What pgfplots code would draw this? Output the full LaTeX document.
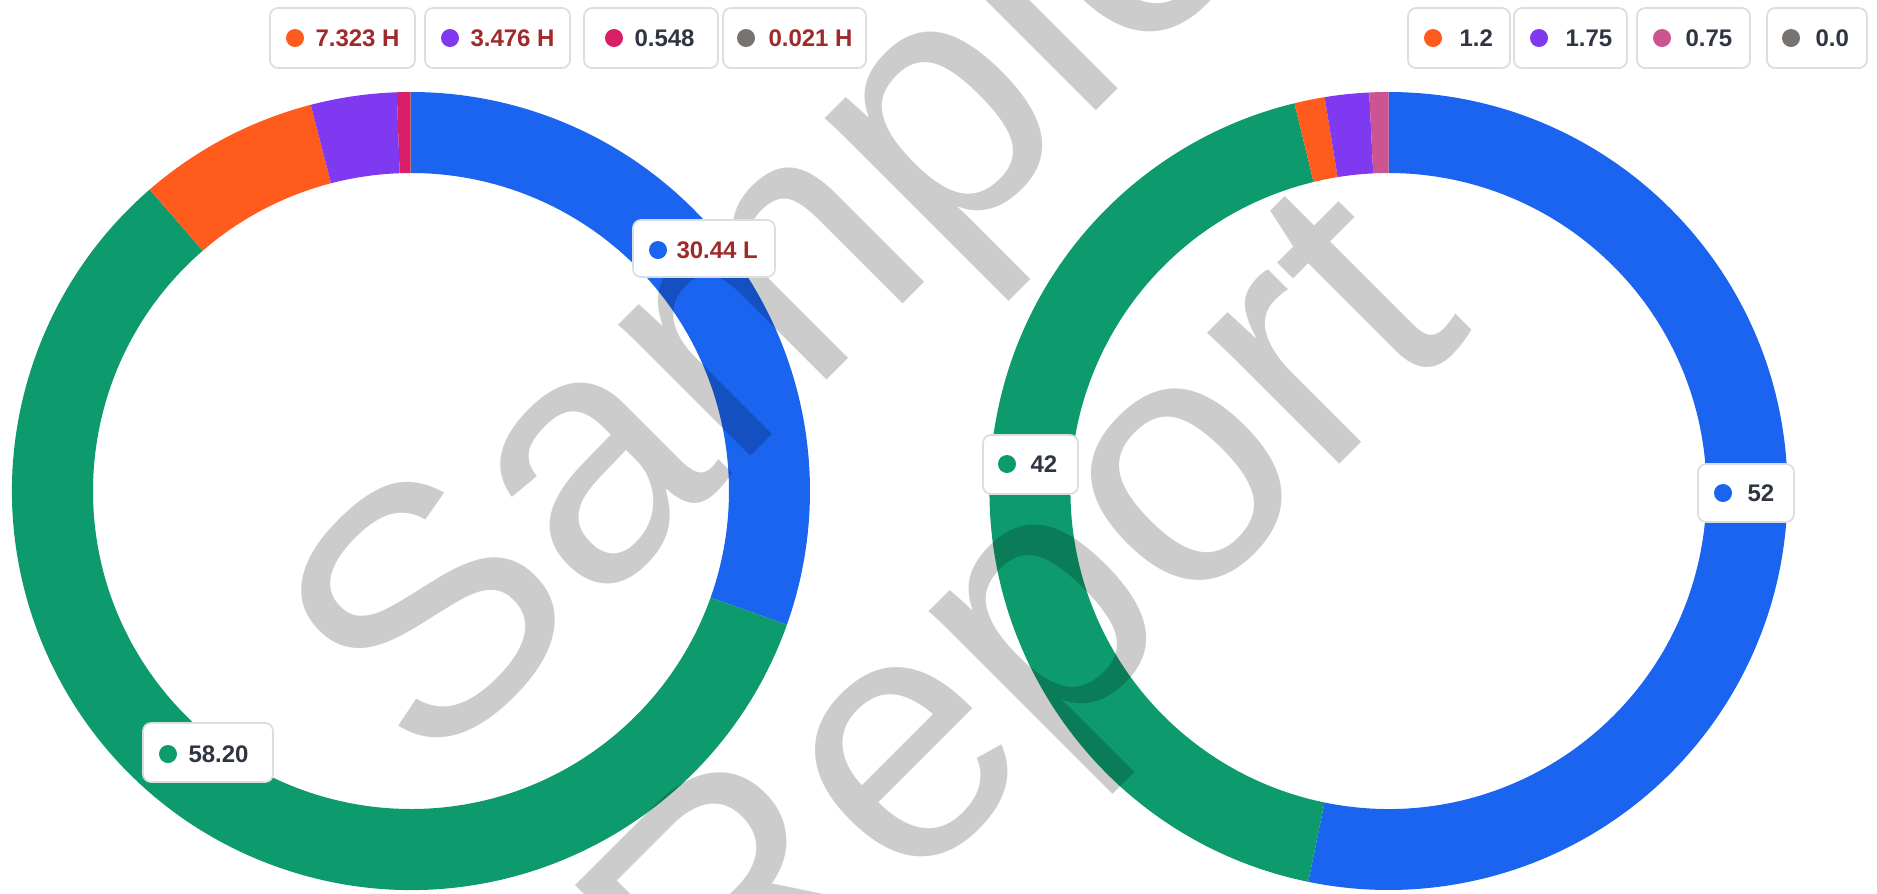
\documentclass[border=0pt]{standalone}
\usepackage{fontspec}
\setmainfont{Liberation Sans}
\usepackage{pgfplots}
\pgfplotsset{compat=1.18}
\usepackage{pgfplotstable}

\definecolor{cblue}{HTML}{1A64F0}
\definecolor{cgreen}{HTML}{0D9B6E}
\definecolor{corange}{HTML}{FF5B1C}
\definecolor{cpurple}{HTML}{7F39F0}
\definecolor{ccrimson}{HTML}{D81E67}
\definecolor{cpink}{HTML}{CC5490}
\definecolor{cgrey}{HTML}{777370}
\definecolor{tred}{HTML}{9E2A2B}
\definecolor{tdark}{HTML}{2F3542}
\definecolor{boxline}{HTML}{DADDE2}

\pgfplotstableread{
val col
30.44 cblue
58.20 cgreen
7.323 corange
3.476 cpurple
0.548 ccrimson
0.021 cgrey
}\lefttab
\pgfplotstableread{
val col
52 cblue
42 cgreen
1.2 corange
1.75 cpurple
0.75 cpink
0.0 cgrey
}\righttab

\def\Rout{159.6pt}
\def\Rin{127.2pt}

\newcommand\donut[3]{%
  \pgfplotstablegetrowsof{#1}%
  \pgfmathtruncatemacro\nlast{\pgfplotsretval-1}%
  \def\tot{0}%
  \pgfplotsforeachungrouped \i in {0,...,\nlast}{%
    \pgfplotstablegetelem{\i}{val}\of{#1}%
    \pgfmathsetmacro\tot{\tot+\pgfplotsretval}%
  }%
  \def\ang{90}%
  \pgfplotsforeachungrouped \i in {0,...,\nlast}{%
    \pgfplotstablegetelem{\i}{val}\of{#1}%
    \pgfmathsetmacro\sweep{\pgfplotsretval/\tot*360}%
    \pgfplotstablegetelem{\i}{col}\of{#1}%
    \edef\col{\pgfplotsretval}%
    \pgfmathsetmacro\angb{\ang-\sweep}%
    \pgfmathparse{\sweep>0.001?1:0}%
    \ifnum\pgfmathresult=1
      \fill[\col] ([shift={(\ang:\Rout)}]axis cs:#2,#3) arc[start angle=\ang, end angle=\angb, radius=\Rout]
        -- ([shift={(\angb:\Rin)}]axis cs:#2,#3) arc[start angle=\angb, end angle=\ang, radius=\Rin] -- cycle;
    \fi
    \let\ang\angb
  }%
}

% box: corner1 corner2 dotpoint dotcolor textpoint textcolor text
\newcommand\lbox[7]{%
  \draw[boxline, line width=0.7pt, fill=white, rounded corners=3.2pt] (axis cs:#1) rectangle (axis cs:#2);
  \fill[#4] (axis cs:#3) circle[radius=3.6pt];
  \node[anchor=west, inner sep=0pt, text=#6, font=\bfseries\fontsize{9.6}{11}\selectfont] at (axis cs:#5) {#7};
}

\begin{document}
\begin{tikzpicture}
\useasboundingbox (0,0) rectangle (750.8pt,357.2pt);
\clip (0,0) rectangle (750.8pt,357.2pt);
\begin{axis}[
  at={(0,0)}, anchor=south west,
  width=750.8pt, height=357.2pt, scale only axis,
  xmin=0, xmax=1877, ymin=0, ymax=893,
  hide axis, clip=false,
]
\addplot[draw=none] coordinates {(0,0)};
\pgfplotsextra{\donut{\lefttab}{411}{402}}
\pgfplotsextra{\donut{\righttab}{1388.5}{402}}

% watermark
\node[rotate=45, anchor=base west, inner sep=0pt, text=black, text opacity=0.2,
  font=\fontsize{141}{141}\selectfont] at (axis cs:428,114) {Sample};
\node[rotate=45, anchor=base west, inner sep=0pt, text=black, text opacity=0.2,
  font=\fontsize{141}{141}\selectfont] at (axis cs:726,-185) {Report};

% legends (left)
\lbox{270,885}{415,825}{295,855}{corange}{315,855}{tred}{7.323 H}
\lbox{425,885}{570,825}{450,855}{cpurple}{470,855}{tred}{3.476 H}
\lbox{584,885}{718,825}{614,855}{ccrimson}{634,855}{tdark}{0.548}
\lbox{723,885}{866,825}{746,855}{cgrey}{768,855}{tred}{0.021 H}
% legends (right)
\lbox{1408,885}{1510,825}{1433,855}{corange}{1459,855}{tdark}{1.2}
\lbox{1514,885}{1627,825}{1539,855}{cpurple}{1565,855}{tdark}{1.75}
\lbox{1637,885}{1750,825}{1662,855}{cpink}{1685,855}{tdark}{0.75}
\lbox{1767,885}{1867,825}{1791,855}{cgrey}{1815,855}{tdark}{0.0}
% data labels
\lbox{633,673}{775,616}{658,643}{cblue}{676,643}{tred}{30.44 L}
\lbox{143,170}{273,111}{168,139}{cgreen}{188,139}{tdark}{58.20}
\lbox{983,458}{1078,399}{1007,429}{cgreen}{1030,429}{tdark}{42}
\lbox{1698,429}{1794,371}{1723,400}{cblue}{1747,400}{tdark}{52}
\end{axis}
\end{tikzpicture}
\end{document}
